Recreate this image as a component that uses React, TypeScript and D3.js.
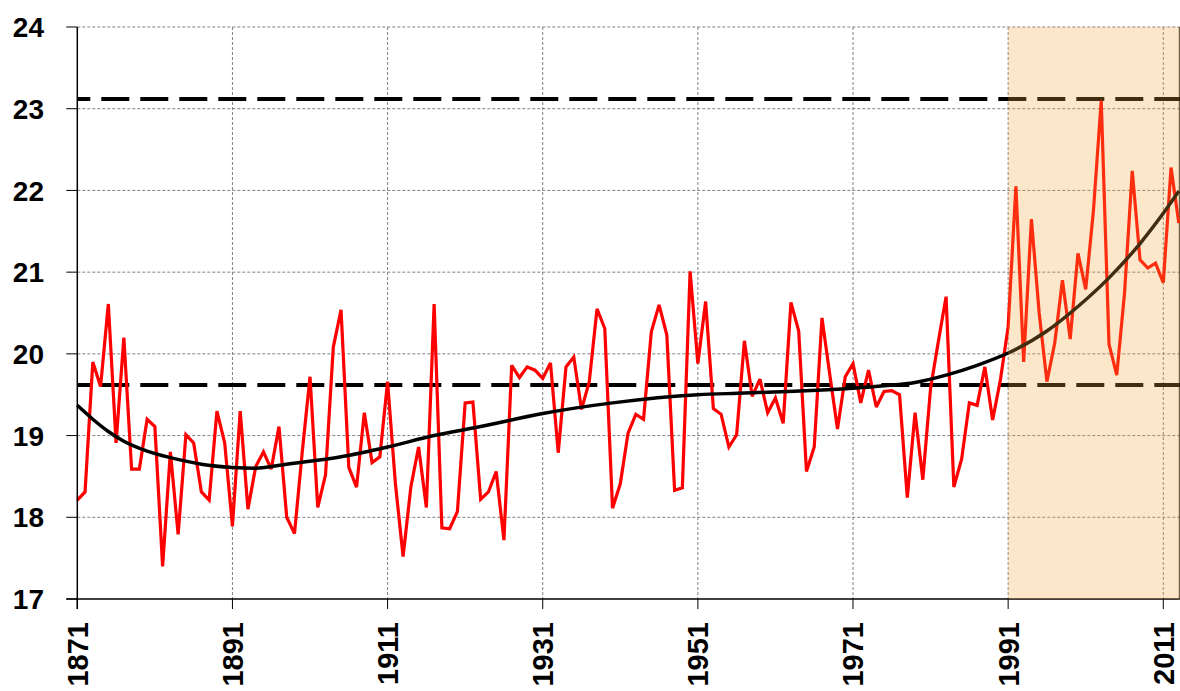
import React from "react";
import * as d3 from "d3";

const startYear = 1871;
const temps: number[] = [
  18.21, 18.31, 19.9, 19.6, 20.61, 18.91, 20.2, 18.59, 18.59, 19.2, // 1871-1880
  19.11, 17.4, 18.8, 17.79, 19.01, 18.91, 18.31, 18.21, 19.3, 18.91, // 1881-1890
  17.89, 19.3, 18.1, 18.62, 18.8, 18.59, 19.11, 18.0, 17.8, 18.8, // 1891-1900
  19.72, 18.12, 18.52, 20.08, 20.54, 18.61, 18.37, 19.28, 18.67, 18.74, // 1901-1910
  19.66, 18.42, 17.52, 18.37, 18.86, 18.12, 20.61, 17.87, 17.86, 18.07, // 1911-1920
  19.4, 19.41, 18.22, 18.31, 18.56, 17.72, 19.86, 19.71, 19.84, 19.8, // 1921-1930
  19.7, 19.89, 18.79, 19.84, 19.96, 19.32, 19.66, 20.55, 20.31, 18.11, // 1931-1940
  18.41, 19.03, 19.26, 19.2, 20.27, 20.6, 20.23, 18.33, 18.36, 21.01, // 1941-1950
  19.88, 20.64, 19.33, 19.26, 18.86, 19.01, 20.16, 19.48, 19.69, 19.28, // 1951-1960
  19.46, 19.15, 20.63, 20.28, 18.56, 18.86, 20.44, 19.75, 19.08, 19.72, // 1961-1970
  19.88, 19.4, 19.8, 19.35, 19.54, 19.55, 19.5, 18.24, 19.28, 18.46, // 1971-1980
  19.58, 20.15, 20.7, 18.37, 18.71, 19.4, 19.37, 19.84, 19.19, 19.68, // 1981-1990
  20.33, 22.05, 19.9, 21.65, 20.5, 19.66, 20.13, 20.9, 20.18, 21.23, // 1991-2000
  20.79, 21.76, 23.1, 20.12, 19.74, 20.74, 22.24, 21.15, 21.05, 21.11, // 2001-2010
  20.87, 22.28, 21.6, // 2011-2013
];
const years = temps.map((_, i) => startYear + i);

const trendYears = [1871, 1873, 1875, 1877, 1880, 1883, 1887, 1891, 1894, 1898, 1905, 1911, 1917, 1923, 1931, 1940, 1951, 1957, 1971, 1975, 1979, 1983, 1987, 1991, 1996, 2000, 2004, 2008, 2011, 2013];
const trendValues = [19.37, 19.2, 19.05, 18.93, 18.81, 18.73, 18.65, 18.61, 18.6, 18.65, 18.74, 18.86, 19.0, 19.11, 19.27, 19.4, 19.5, 19.52, 19.58, 19.61, 19.65, 19.74, 19.86, 20.01, 20.28, 20.58, 20.93, 21.35, 21.72, 21.99];

const refLines = [19.62, 23.12];
const shadeFrom = 1991;
const yTicks = [17, 18, 19, 20, 21, 22, 23, 24];
const xTicks = [1871, 1891, 1911, 1931, 1951, 1971, 1991, 2011];

export default function App() {
  const W = 1180, H = 691;
  const left = 77.3, right = 1178.8, top = 27, bottom = 599;
  const x = d3.scaleLinear().domain([1871, 2013]).range([left, right]);
  const y = d3.scaleLinear().domain([17, 24]).range([bottom, top]);
  const dataLine = d3.line<number>().x((_, i) => x(years[i])).y((d) => y(d))(temps) || "";
  const trendLine = d3
    .line<number>()
    .x((_, i) => x(trendYears[i]))
    .y((d) => y(d))
    .curve(d3.curveMonotoneX)(trendValues) || "";
  const font = "'Liberation Sans', Arial, sans-serif";
  return (
    <svg width={W} height={H} style={{ position: "absolute", left: 0, top: 0, display: "block", background: "#fff" }}>
      {yTicks.filter((t) => t !== 17).map((t) => (
        <line key={"gy" + t} x1={left} x2={right + 1} y1={y(t)} y2={y(t)} stroke="#808080" strokeWidth={1} strokeDasharray="3,2" />
      ))}
      {xTicks.filter((t) => t !== 1871).map((t) => (
        <line key={"gx" + t} x1={x(t)} x2={x(t)} y1={top} y2={bottom} stroke="#808080" strokeWidth={1} strokeDasharray="3,2" />
      ))}
      <line x1={right + 0.5} x2={right + 0.5} y1={top} y2={bottom} stroke="#222" strokeWidth={1} />
      {refLines.map((v) => (
        <line key={"r" + v} x1={left} x2={W} y1={y(v)} y2={y(v)} stroke="#000" strokeWidth={4} strokeDasharray="28,11" strokeDashoffset={15} />
      ))}
      <path d={dataLine} fill="none" stroke="#ff0000" strokeWidth={3.2} strokeLinejoin="miter" strokeMiterlimit={3} />
      <path d={trendLine} fill="none" stroke="#000" strokeWidth={3.5} />
      <line x1={left} x2={left} y1={top} y2={bottom + 10} stroke="#000" strokeWidth={1.5} />
      <line x1={left - 11} x2={right + 1} y1={bottom} y2={bottom} stroke="#000" strokeWidth={1.5} />
      <rect x={x(shadeFrom)} y={top} width={right + 1 - x(shadeFrom)} height={bottom - top} fill="rgb(247,168,60)" fillOpacity={0.27} />
      {yTicks.map((t) => (
        <g key={"yt" + t}>
          <line x1={left - 11} x2={left} y1={y(t)} y2={y(t)} stroke="#000" strokeWidth={1} />
          <text x={44} y={y(t)} dy="0.36em" textAnchor="end" fontFamily={font} fontWeight="bold" fontSize={28} fill="#000">
            {t}
          </text>
        </g>
      ))}
      {xTicks.map((t) => (
        <g key={"xt" + t}>
          <line x1={x(t)} x2={x(t)} y1={bottom} y2={bottom + 10} stroke="#000" strokeWidth={1} />
          <text
            transform={`translate(${x(t)},${622}) rotate(-90)`}
            dy="0.36em"
            textAnchor="end"
            fontFamily={font}
            fontWeight="bold"
            fontSize={29}
            fill="#000"
          >
            {t}
          </text>
        </g>
      ))}
    </svg>
  );
}
